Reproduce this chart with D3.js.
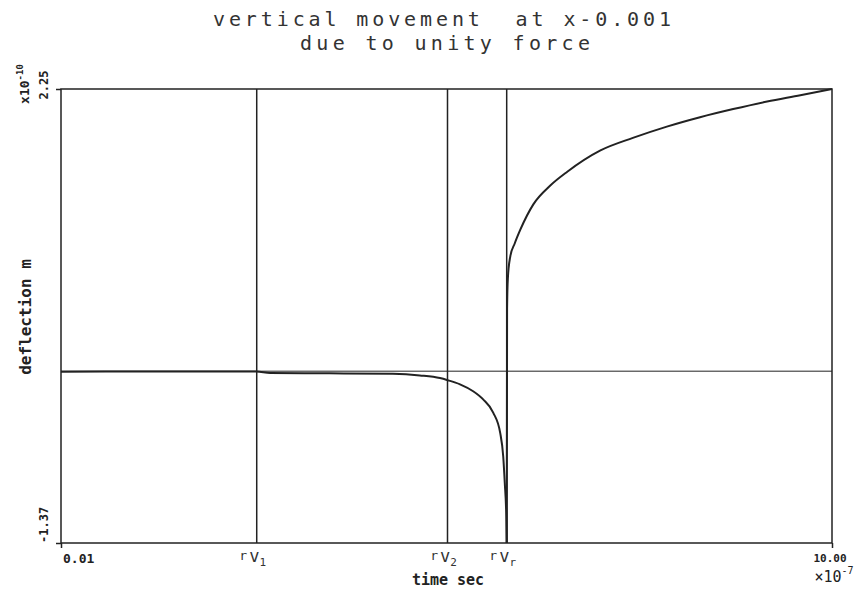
<!DOCTYPE html>
<html>
<head>
<meta charset="utf-8">
<script src="https://cdn.jsdelivr.net/npm/d3@7"></script>
<style>
  body { margin: 0; background: #fff; }
  svg { display: block; }
</style>
</head>
<body>
<svg id="chart"></svg>
<script>
const width = 865;
const height = 589;
const margin = {left: 61, right: 33, top: 89, bottom: 46};

// time (x10^-7 sec) and deflection (x10^-10 m)
const timeBefore = [0.01, 1.16, 2.54, 2.72, 3.49, 4.31, 4.66, 4.92, 5.02, 5.18, 5.35, 5.48, 5.61, 5.70, 5.74, 5.76, 5.78, 5.785];
const deflBefore = [-0.004, -0.003, -0.002, -0.015, -0.017, -0.021, -0.034, -0.055, -0.072, -0.105, -0.16, -0.225, -0.33, -0.49, -0.68, -0.89, -1.16, -1.37];

const timeAfter = [5.786, 5.79, 5.80, 5.83, 5.89, 5.96, 6.13, 6.35, 6.57, 7.0, 7.42, 7.86, 8.29, 8.72, 9.16, 9.59, 10.0];
const deflAfter = [-1.37, 0.5, 0.74, 0.91, 1.02, 1.126, 1.33, 1.48, 1.59, 1.76, 1.86, 1.95, 2.025, 2.09, 2.15, 2.2, 2.25];

// wave arrival times
const waveTimes = [2.546, 5.018, 5.785];
const waveSubs = ['1', '2', 'r'];

const xTicks = [0.01, 10.0];
const xTickLabels = ['0.01', '10.00'];
const yTicks = [-1.37, 2.25];
const yTickLabels = ['-1.37', '2.25'];

const svg = d3.select('#chart')
    .attr('width', width)
    .attr('height', height);

const x = d3.scaleLinear().domain([0.01, 10.0]).range([margin.left, width - margin.right]);
const y = d3.scaleLinear().domain([-1.37, 2.25]).range([height - margin.bottom, margin.top]);

const ink = '#222';
const mono = '"DejaVu Sans Mono", monospace';

// title
svg.append('text')
    .attr('x', 442).attr('y', 26)
    .attr('text-anchor', 'middle')
    .attr('font-family', mono).attr('font-size', 20)
    .attr('fill', '#333')
    .attr('textLength', 458).attr('lengthAdjust', 'spacing')
    .style('white-space', 'pre')
    .text('vertical movement  at x-0.001');
svg.append('text')
    .attr('x', 445).attr('y', 50)
    .attr('text-anchor', 'middle')
    .attr('font-family', mono).attr('font-size', 20)
    .attr('fill', '#333')
    .attr('textLength', 290).attr('lengthAdjust', 'spacing')
    .text('due to unity force');

// frame
svg.append('rect')
    .attr('x', x(0.01)).attr('y', y(2.25))
    .attr('width', x(10) - x(0.01))
    .attr('height', y(-1.37) - y(2.25))
    .attr('fill', 'none')
    .attr('stroke', ink).attr('stroke-width', 1.5);

// axes ticks
svg.append('g')
    .attr('transform', `translate(0, ${y(-1.37)})`)
    .call(d3.axisBottom(x).tickValues(xTicks).tickSize(5).tickFormat(''))
    .call(g => g.select('.domain').remove())
    .call(g => g.selectAll('line').attr('stroke', ink).attr('stroke-width', 1.5));

svg.append('g')
    .attr('transform', `translate(${x(0.01)}, 0)`)
    .call(d3.axisLeft(y).tickValues(yTicks).tickSize(5).tickFormat(''))
    .call(g => g.select('.domain').remove())
    .call(g => g.selectAll('line').attr('stroke', ink).attr('stroke-width', 1.5));

// zero line
svg.append('line')
    .attr('x1', x(0.01)).attr('x2', x(10))
    .attr('y1', y(0)).attr('y2', y(0))
    .attr('stroke', ink).attr('stroke-width', 1);

// wave arrival lines
svg.selectAll('.wave')
    .data(waveTimes)
    .enter()
    .append('line')
    .attr('class', 'wave')
    .attr('x1', d => x(d)).attr('x2', d => x(d))
    .attr('y1', y(2.25)).attr('y2', y(-1.37))
    .attr('stroke', ink).attr('stroke-width', 1.5);

const waveLabel = svg.selectAll('.wave-label')
    .data(waveTimes)
    .enter()
    .append('text')
    .attr('class', 'wave-label')
    .attr('x', d => x(d) - 4)
    .attr('y', 562)
    .attr('text-anchor', 'middle')
    .attr('font-family', mono)
    .attr('fill', '#333');
waveLabel.append('tspan').attr('font-size', 13).attr('dy', -2).text('r');
waveLabel.append('tspan').attr('font-size', 17).attr('dx', 2).attr('dy', 2).text('v');
waveLabel.append('tspan').attr('font-size', 11).attr('dy', 4).text((d, i) => waveSubs[i]);

// curve
const line = d3.line()
    .x(d => x(d[0]))
    .y(d => y(d[1]))
    .curve(d3.curveMonotoneX);

svg.append('path')
    .datum(d3.zip(timeBefore, deflBefore))
    .attr('fill', 'none')
    .attr('stroke', ink).attr('stroke-width', 2)
    .attr('d', line);

svg.append('path')
    .datum(d3.zip(timeAfter, deflAfter))
    .attr('fill', 'none')
    .attr('stroke', ink).attr('stroke-width', 2)
    .attr('d', line);

// x tick labels
svg.append('text')
    .attr('x', x(xTicks[0]) + 2).attr('y', 563)
    .attr('font-family', mono).attr('font-weight', 'bold').attr('font-size', 13)
    .attr('fill', ink)
    .text(xTickLabels[0]);
svg.append('text')
    .attr('x', x(xTicks[1]) - 2).attr('y', 562)
    .attr('text-anchor', 'middle')
    .attr('font-family', mono).attr('font-weight', 'bold').attr('font-size', 11)
    .attr('fill', ink)
    .text(xTickLabels[1]);
const xExp = svg.append('text')
    .attr('x', x(xTicks[1]) + 2).attr('y', 582)
    .attr('text-anchor', 'middle')
    .attr('font-family', mono).attr('font-size', 15)
    .attr('fill', ink);
xExp.append('tspan').text('\u00d710');
xExp.append('tspan').attr('font-size', 10).attr('dy', -8).text('-7');

svg.append('text')
    .attr('x', 448).attr('y', 585)
    .attr('text-anchor', 'middle')
    .attr('font-family', mono).attr('font-weight', 'bold').attr('font-size', 15)
    .attr('fill', ink)
    .text('time sec');

// y tick labels (rotated)
svg.append('text')
    .attr('transform', `translate(48, ${y(yTicks[0])}) rotate(-90)`)
    .attr('font-family', mono).attr('font-weight', 'bold').attr('font-size', 12)
    .attr('fill', ink)
    .text(yTickLabels[0]);
svg.append('text')
    .attr('transform', `translate(48, ${y(yTicks[1]) - 4}) rotate(-90)`)
    .attr('text-anchor', 'middle')
    .attr('font-family', mono).attr('font-weight', 'bold').attr('font-size', 12)
    .attr('fill', ink)
    .text(yTickLabels[1]);
const yExp = svg.append('text')
    .attr('transform', 'translate(29, 84) rotate(-90)')
    .attr('text-anchor', 'middle')
    .attr('font-family', mono).attr('font-weight', 'bold').attr('font-size', 13)
    .attr('fill', ink);
yExp.append('tspan').text('x10');
yExp.append('tspan').attr('font-size', 9).attr('dy', -6).text('-10');

svg.append('text')
    .attr('transform', 'translate(31, 317) rotate(-90)')
    .attr('text-anchor', 'middle')
    .attr('font-family', mono).attr('font-weight', 'bold').attr('font-size', 16)
    .attr('fill', ink)
    .text('deflection m');
</script>
</body>
</html>
